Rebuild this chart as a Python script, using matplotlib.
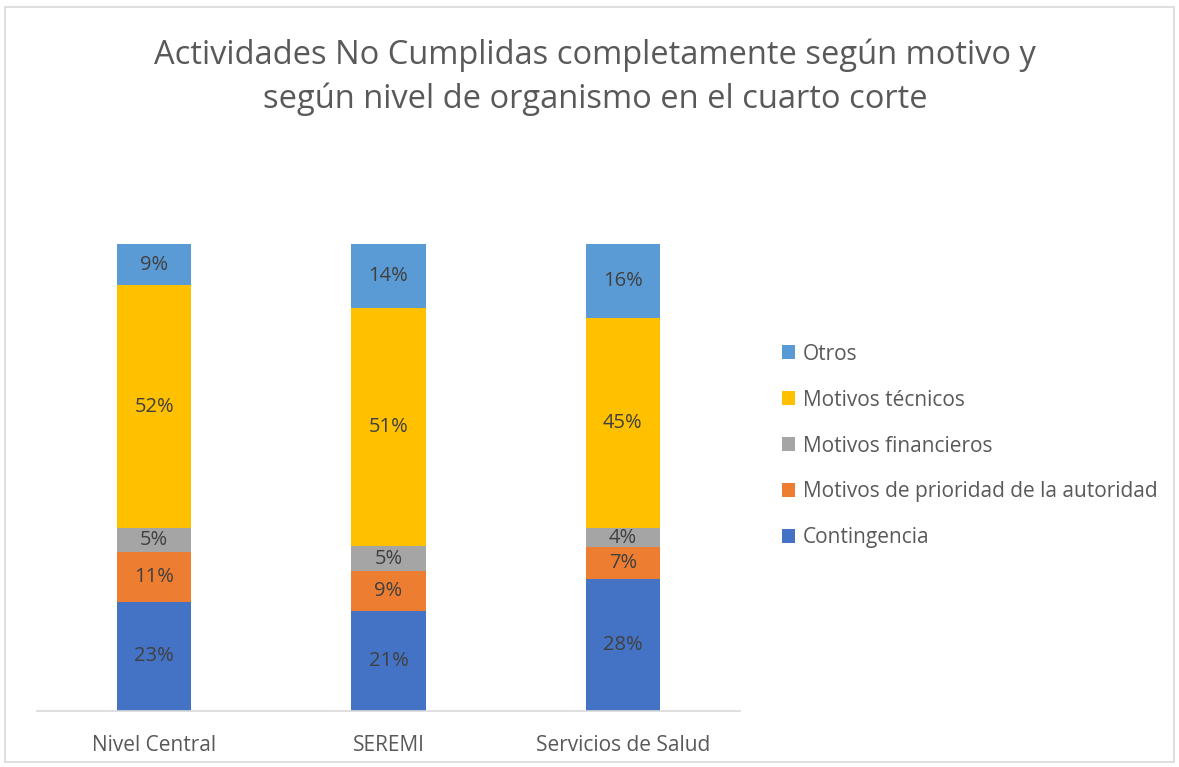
import matplotlib
matplotlib.use("Agg")
import matplotlib.pyplot as plt
from matplotlib.patches import Rectangle, Patch
import numpy as np

categories = ["Nivel Central", "SEREMI", "Servicios de Salud"]
series_names = ["Contingencia", "Motivos de prioridad de la autoridad",
                "Motivos financieros", "Motivos técnicos", "Otros"]
contingencia = [23.4, 21.4, 28.3]
prioridad = [10.6, 8.6, 6.8]
financieros = [5.2, 5.3, 4.1]
tecnicos = [52.0, 51.1, 45.0]
otros = [8.8, 13.6, 15.8]
series_values = [contingencia, prioridad, financieros, tecnicos, otros]
colors = ["#4472C4", "#ED7D31", "#A5A5A5", "#FFC000", "#5B9BD5"]
title = "Actividades No Cumplidas completamente según motivo y\nsegún nivel de organismo en el cuarto corte"

plt.rcParams['font.family'] = ['Open Sans', 'DejaVu Sans']

W, H = 1179, 767
fig = plt.figure(figsize=(W / 100, H / 100), dpi=100)
fig.patches.append(Rectangle((5 / W, 5 / H), (W - 10) / W, (H - 12) / H,
                             transform=fig.transFigure, fill=False,
                             edgecolor="#D9D9D9", linewidth=1.2))

ax = fig.add_axes([37 / W, (H - 711) / H, (740 - 37) / W, (711 - 244) / H])
x = np.arange(len(categories))
bottom = np.zeros(len(categories))
handles = []
for name, vals, col in zip(series_names, series_values, colors):
    vals = np.array(vals)
    ax.bar(x, vals, width=0.316, bottom=bottom, color=col, label=name)
    for xi, v, b in zip(x, vals, bottom):
        ax.text(xi, b + v / 2, f"{round(v):d}%", ha="center", va="center",
                fontsize=14.5, color="#404040")
    bottom += vals
    handles.append(Patch(facecolor=col, label=name))

ax.set_xlim(-0.5, 2.5)
ax.set_ylim(0, 100)
ax.set_xticks(x)
ax.set_xticklabels(categories, fontsize=15, color="#595959")
ax.tick_params(axis="x", length=0, pad=17)
ax.set_yticks([])
for s in ["top", "right", "left"]:
    ax.spines[s].set_visible(False)
ax.spines["bottom"].set_color("#D9D9D9")
ax.spines["bottom"].set_linewidth(1.2)

fig.text(595 / W, 1 - 77 / H, title, ha="center", va="center",
         fontsize=23.5, color="#595959", linespacing=1.4)

leg = fig.legend(handles=handles[::-1], loc="center left",
                 bbox_to_anchor=(772 / W, 1 - 446 / H), frameon=False,
                 fontsize=15, handlelength=0.62, handleheight=0.62,
                 handletextpad=0.35, labelspacing=1.2, borderpad=0)
for t in leg.get_texts():
    t.set_color("#595959")

fig.savefig("out.png", dpi=100)
